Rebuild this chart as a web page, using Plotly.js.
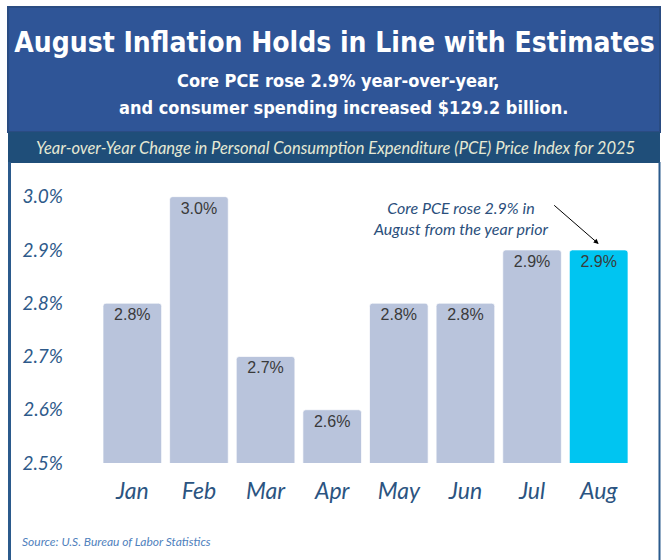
<!DOCTYPE html>
<html>
<head>
<meta charset="utf-8">
<script src="https://cdn.plot.ly/plotly-3.0.1.min.js"></script>
<style>html,body{margin:0;padding:0;background:#fff;}#chart{width:669px;height:560px;}</style>
</head>
<body>
<div id="chart"></div>
<script>
// ---- data ----
const months = ["Jan", "Feb", "Mar", "Apr", "May", "Jun", "Jul", "Aug"];
const pceValues = [2.8, 3.0, 2.7, 2.6, 2.8, 2.8, 2.9, 2.9];
const yTickVals = [2.5, 2.6, 2.7, 2.8, 2.9, 3.0];
const yTickText = ["2.5%", "2.6%", "2.7%", "2.8%", "2.9%", "3.0%"];
const titleText = "August Inflation Holds in Line with Estimates";
const subLine1 = "Core PCE rose 2.9% year-over-year,";
const subLine2 = "and consumer spending increased $129.2 billion.";
const bandText = "Year-over-Year Change in Personal Consumption Expenditure (PCE) Price Index for 2025";
const noteText = "Core PCE rose 2.9% in<br>August from the year prior";
const sourceText = "Source: U.S. Bureau of Labor Statistics";

// ---- layout geometry ----
const W = 669, H = 560;
const M = {l: 99, r: 37, t: 170, b: 97};
const PW = W - M.l - M.r, PH = H - M.t - M.b;
const X = px => (px - M.l) / PW;
const Y = py => (H - M.b - py) / PH;

const condensed = "DejaVu Sans Condensed, Liberation Sans Narrow, sans-serif";

const barColors = months.map((m, i) => i === months.length - 1 ? "#00c5f1" : "#b9c4dc");

const trace = {
  type: "bar",
  x: months,
  y: pceValues,
  marker: {color: barColors, line: {color: "rgba(255,255,255,0.7)", width: 1}, cornerradius: 3},
  text: pceValues.map(v => v.toFixed(1) + "%"),
  textposition: "inside",
  insidetextanchor: "end",
  textangle: 0,
  textfont: {family: "Liberation Sans, Arial, sans-serif", size: 16, color: "#3a3a3a"},
  hoverinfo: "x+y",
  cliponaxis: true
};

const layout = {
  width: W, height: H,
  margin: M,
  paper_bgcolor: "#ffffff",
  plot_bgcolor: "#ffffff",
  showlegend: false,
  bargap: 0.12,
  title: {
    text: "<b>" + titleText + "</b>",
    font: {family: condensed, size: 28, color: "#ffffff", stretch: "condensed"},
    x: 0.5, xanchor: "center", xref: "container",
    y: 1 - 42 / H, yanchor: "middle", yref: "container"
  },
  xaxis: {
    type: "category",
    showgrid: false, zeroline: false, showline: false, ticks: "",
    tickfont: {family: "Lato, sans-serif", size: 23, color: "#2b5481", style: "italic"},
    ticklabelstandoff: 12
  },
  yaxis: {
    range: [2.5, 2.5 + PH / 532.7],
    tickvals: yTickVals, ticktext: yTickText,
    showgrid: false, zeroline: false, showline: false, ticks: "",
    tickfont: {family: "Lato, sans-serif", size: 19, color: "#2e5a8a", style: "italic"},
    ticklabelstandoff: 35
  },
  shapes: [
    // header box
    {type: "rect", xref: "paper", yref: "paper", x0: X(8), x1: X(660), y0: Y(132), y1: Y(7),
     fillcolor: "#2f5597", line: {color: "#2a4c82", width: 2}, layer: "below"},
    // subtitle band
    {type: "rect", xref: "paper", yref: "paper", x0: X(8), x1: X(660), y0: Y(163), y1: Y(132),
     fillcolor: "#1f4e79", line: {width: 0}, layer: "below"},
    // frame lines
    {type: "line", xref: "paper", yref: "paper", x0: X(9.5), x1: X(9.5), y0: Y(560), y1: Y(162),
     line: {color: "#2b5a8c", width: 3}},
    {type: "line", xref: "paper", yref: "paper", x0: X(659.5), x1: X(659.5), y0: Y(560), y1: Y(162),
     line: {color: "#2b5a8c", width: 2}}
  ],
  annotations: [
    {text: "<b>" + subLine1 + "</b>", xref: "paper", yref: "paper", x: X(338), y: Y(80),
     xanchor: "center", yanchor: "middle", showarrow: false,
     font: {family: condensed, size: 18, color: "#ffffff", stretch: "condensed"}},
    {text: "<b>" + subLine2 + "</b>", xref: "paper", yref: "paper", x: X(343), y: Y(108),
     xanchor: "center", yanchor: "middle", showarrow: false,
     font: {family: condensed, size: 18, color: "#ffffff", stretch: "condensed"}},
    {text: bandText, xref: "paper", yref: "paper", x: X(335), y: Y(148),
     xanchor: "center", yanchor: "middle", showarrow: false,
     font: {family: "Lato, sans-serif", size: 16.5, color: "#e6e9d4", style: "italic"}},
    {text: noteText, xref: "paper", yref: "paper", x: X(461), y: Y(218),
     xanchor: "center", yanchor: "middle", showarrow: false, align: "center",
     font: {family: "Lato, sans-serif", size: 16, color: "#2b4f7c", style: "italic"}},
    {text: "", xref: "x", yref: "y", x: "Aug", y: 2.5 + (463 - 244) / 532.7,
     axref: "pixel", ayref: "pixel", ax: -46, ay: -40, showarrow: true,
     arrowhead: 2, arrowsize: 1, arrowwidth: 1, arrowcolor: "#000000"},
    {text: sourceText, xref: "paper", yref: "paper", x: X(20), y: Y(541),
     xanchor: "left", yanchor: "middle", showarrow: false,
     font: {family: "Lato, sans-serif", size: 12, color: "#4f81bd", style: "italic"}}
  ]
};

Plotly.newPlot("chart", [trace], layout, {displayModeBar: false, staticPlot: true});
</script>
</body>
</html>
